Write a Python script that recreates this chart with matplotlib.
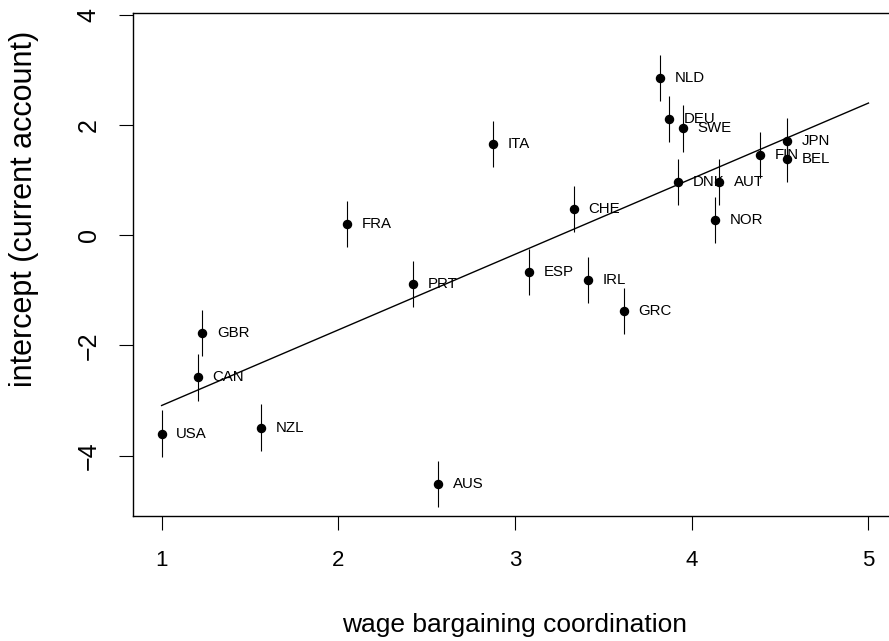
import matplotlib
matplotlib.use("Agg")
import matplotlib.pyplot as plt
import numpy as np

plt.rcParams["font.family"] = ["Liberation Sans", "DejaVu Sans"]

# Country estimates: coordination index vs. current-account intercept
countries = ["USA", "CAN", "GBR", "NZL", "FRA", "PRT", "AUS", "ITA", "ESP", "CHE",
             "IRL", "GRC", "NLD", "DEU", "DNK", "SWE", "NOR", "AUT", "FIN", "JPN", "BEL"]
coordination = [1.00, 1.204, 1.230, 1.564, 2.051, 2.421, 2.566, 2.874, 3.079, 3.334,
                 3.411, 3.617, 3.822, 3.873, 3.924, 3.951, 4.130, 4.156, 4.387, 4.541, 4.541]
intercept = [-3.60, -2.58, -1.78, -3.49, 0.205, -0.884, -4.51, 1.657, -0.672, 0.477,
             -0.817, -1.374, 2.86, 2.11, 0.967, 1.94, 0.278, 0.967, 1.452, 1.717, 1.39]
half_ci = [0.42] * len(countries)

# Fitted regression line
fit_intercept = -4.4625
fit_slope = 1.3725

x_ticks = [1, 2, 3, 4, 5]
y_ticks = [-4, -2, 0, 2, 4]

fig = plt.figure(figsize=(8.89, 6.41), dpi=100)
ax = fig.add_axes([0.1493, 0.1955, 0.8595, 0.7838])

x = np.array(coordination)
y = np.array(intercept)
e = np.array(half_ci)

ax.vlines(x, y - e, y + e, color="black", linewidth=0.8)
ax.plot(x, y, "o", color="black", markersize=5.8)

xl = np.array([min(x_ticks), max(x_ticks)], dtype=float)
ax.plot(xl, fit_intercept + fit_slope * xl, color="black", linewidth=1.0)

for cx, cy, name in zip(x, y, countries):
    ax.annotate(name, (cx, cy), xytext=(10.5, 0), textcoords="offset points",
                ha="left", va="center", fontsize=10.8)

ax.set_xlim(0.8365, 5.1605)
ax.set_ylim(-5.09, 4.03)
ax.set_xticks(x_ticks)
ax.set_xticklabels([str(t) for t in x_ticks])
ax.set_yticks(y_ticks)
ax.set_yticklabels([f"{t}".replace("-", "\u2212") for t in y_ticks])

for s in ax.spines.values():
    s.set_linewidth(1.0)

ax.tick_params(axis="both", direction="out", length=10, width=0.8, color="black")
ax.tick_params(axis="x", labelsize=16, pad=15)
ax.tick_params(axis="y", labelsize=18, pad=13, labelrotation=90)
for lab in ax.get_yticklabels():
    lab.set_va("center")

ax.set_xlabel("wage bargaining coordination", fontsize=19)
ax.xaxis.label.set_va("baseline")
ax.xaxis.set_label_coords(0.5, -0.2309)

ax.set_ylabel("intercept (current account)", fontsize=22)
ax.yaxis.label.set_va("baseline")
ax.yaxis.set_label_coords(-0.1322, 0.6105)

fig.savefig("out.png", dpi=100)
